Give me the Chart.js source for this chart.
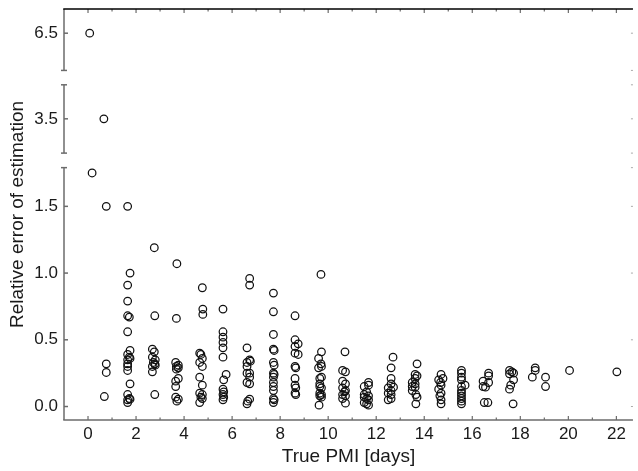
<!DOCTYPE html>
<html>
<head>
<meta charset="utf-8">
<script src="https://cdn.jsdelivr.net/npm/chart.js@4"></script>
<style>
  html, body { margin: 0; padding: 0; background: #fff; }
  #wrap { width: 638px; height: 471px; }
</style>
</head>
<body>
<div id="wrap"><canvas id="chart"></canvas></div>
<script>
// true PMI (days) and relative error
const pmiDays = [
  0.07, 0.66, 0.17, 0.76, 0.76, 0.76, 0.68,
  1.65, 1.75, 1.65, 1.65, 1.65, 1.72, 1.65, 1.75, 1.65, 1.72, 1.65, 1.75, 1.65, 1.65, 1.65, 1.75, 1.65, 1.72, 1.65, 1.75, 1.65,
  2.76, 2.78, 2.68, 2.76, 2.68, 2.8, 2.72, 2.78, 2.68, 2.8, 2.68, 2.78,
  3.7, 3.68, 3.65, 3.76, 3.68, 3.76, 3.68, 3.76, 3.65, 3.65, 3.65, 3.76, 3.7,
  4.76, 4.78, 4.78, 4.65, 4.7, 4.76, 4.65, 4.76, 4.65, 4.76, 4.65, 4.76, 4.7, 4.76, 4.65,
  5.62, 5.62, 5.62, 5.62, 5.62, 5.62, 5.75, 5.65, 5.62, 5.65, 5.62, 5.65, 5.62,
  6.73, 6.73, 6.62, 6.73, 6.62, 6.76, 6.62, 6.73, 6.62, 6.73, 6.62, 6.73, 6.73, 6.65, 6.62,
  7.72, 7.72, 7.72, 7.72, 7.75, 7.72, 7.75, 7.72, 7.75, 7.72, 7.72, 7.72, 7.72, 7.72, 7.75, 7.72,
  8.62, 8.62, 8.75, 8.62, 8.62, 8.75, 8.62, 8.65, 8.62, 8.62, 8.65, 8.62, 8.65,
  9.7, 9.72, 9.6, 9.7, 9.6, 9.72, 9.72, 9.65, 9.65, 9.65, 9.72, 9.65, 9.72, 9.65, 9.72, 9.62,
  10.7, 10.6, 10.72, 10.6, 10.72, 10.6, 10.72, 10.68, 10.6, 10.72, 10.6, 10.72,
  11.68, 11.5, 11.68, 11.6, 11.5, 11.68, 11.5, 11.6, 11.68, 11.5, 11.68, 11.6,
  12.7, 12.62, 12.62, 12.62, 12.72, 12.5, 12.62, 12.5, 12.62, 12.5, 12.62,
  13.7, 13.62, 13.7, 13.62, 13.5, 13.62, 13.5, 13.62, 13.5, 13.65, 13.7, 13.65,
  14.7, 14.78, 14.6, 14.68, 14.7, 14.6, 14.7, 14.65, 14.7, 14.7,
  15.55, 15.55, 15.55, 15.55, 15.7, 15.55, 15.55, 15.55, 15.55, 15.55, 15.55, 15.55,
  16.68, 16.68, 16.45, 16.68, 16.45, 16.55, 16.5, 16.65,
  17.55, 17.65, 17.72, 17.55, 17.72, 17.6, 17.55, 17.7,
  18.62, 18.62, 18.5, 19.05, 19.05, 20.05, 22.02
];
const relError = [
  6.5, 3.5, 1.75, 1.5, 0.32, 0.255, 0.075,
  1.5, 1.0, 0.91, 0.79, 0.68, 0.67, 0.56, 0.42, 0.39, 0.37, 0.35, 0.36, 0.32, 0.30, 0.27, 0.17, 0.09, 0.06, 0.05, 0.055, 0.03,
  1.19, 0.68, 0.43, 0.41, 0.37, 0.35, 0.33, 0.32, 0.30, 0.31, 0.26, 0.09,
  1.07, 0.66, 0.33, 0.31, 0.30, 0.29, 0.28, 0.21, 0.19, 0.15, 0.07, 0.055, 0.04,
  0.89, 0.73, 0.69, 0.40, 0.39, 0.36, 0.33, 0.30, 0.22, 0.16, 0.10, 0.09, 0.07, 0.06, 0.03,
  0.73, 0.56, 0.52, 0.48, 0.44, 0.37, 0.24, 0.20, 0.13, 0.11, 0.09, 0.07, 0.05,
  0.96, 0.91, 0.44, 0.35, 0.33, 0.34, 0.30, 0.25, 0.25, 0.22, 0.18, 0.17, 0.055, 0.04, 0.02,
  0.85, 0.71, 0.54, 0.43, 0.42, 0.33, 0.31, 0.25, 0.24, 0.22, 0.18, 0.15, 0.12, 0.06, 0.05, 0.03,
  0.68, 0.50, 0.47, 0.45, 0.40, 0.39, 0.30, 0.29, 0.21, 0.16, 0.14, 0.10, 0.09,
  0.99, 0.41, 0.36, 0.32, 0.29, 0.30, 0.22, 0.21, 0.17, 0.15, 0.14, 0.10, 0.09, 0.08, 0.07, 0.01,
  0.41, 0.27, 0.26, 0.19, 0.17, 0.14, 0.12, 0.11, 0.09, 0.08, 0.06, 0.025,
  0.18, 0.15, 0.16, 0.11, 0.09, 0.08, 0.07, 0.06, 0.05, 0.03, 0.01, 0.02,
  0.37, 0.29, 0.21, 0.17, 0.145, 0.14, 0.12, 0.10, 0.09, 0.05, 0.06,
  0.32, 0.24, 0.23, 0.21, 0.18, 0.17, 0.15, 0.145, 0.12, 0.09, 0.07, 0.02,
  0.24, 0.21, 0.20, 0.18, 0.16, 0.13, 0.10, 0.08, 0.05, 0.02,
  0.27, 0.25, 0.22, 0.20, 0.16, 0.15, 0.12, 0.10, 0.08, 0.06, 0.04, 0.02,
  0.25, 0.23, 0.19, 0.18, 0.15, 0.145, 0.03, 0.03,
  0.27, 0.26, 0.25, 0.245, 0.20, 0.16, 0.13, 0.02,
  0.29, 0.27, 0.22, 0.22, 0.15, 0.27, 0.26
];

const xTicks = [0, 2, 4, 6, 8, 10, 12, 14, 16, 18, 20, 22];
const yTicksLow = [0, 0.5, 1.0, 1.5];
const yTicksMid = [3.5];
const yTicksHigh = [6.5];

const points = pmiDays.map((x, i) => ({ x: x, y: relError[i] }));
const lowPts = points.filter(p => p.y < 2);
const midPts = points.filter(p => p.y >= 2 && p.y < 5);
const highPts = points.filter(p => p.y >= 5);

const FONT = '"Liberation Sans", Arial, sans-serif';
const AXIS_GREY = '#6b6b6b';

// which part of each y scale gets an axis line (broken axis)
const axisSegments = [
  { id: 'yLow', lo: null, hi: 1.79 },
  { id: 'yMid', lo: 3.243, hi: 3.755 },
  { id: 'yHigh', lo: 6.22, hi: null }
];

function rightMark(ctx, a, y) {
  ctx.save();
  ctx.strokeStyle = '#aaa';
  ctx.lineWidth = 1;
  ctx.beginPath();
  ctx.moveTo(a.right - 2, y);
  ctx.lineTo(a.right, y);
  ctx.stroke();
  ctx.restore();
}

const brokenAxes = {
  id: 'brokenAxes',
  afterDraw(chart) {
    const { ctx, chartArea: a, scales } = chart;
    const sx = scales.x;
    ctx.save();
    ctx.lineCap = 'butt';

    // left axis pieces
    ctx.strokeStyle = AXIS_GREY;
    ctx.lineWidth = 1.5;
    axisSegments.forEach(seg => {
      const s = scales[seg.id];
      const yb = seg.lo === null ? a.bottom : s.getPixelForValue(seg.lo);
      const yt = seg.hi === null ? a.top : s.getPixelForValue(seg.hi);
      ctx.beginPath();
      ctx.moveTo(a.left, yb);
      ctx.lineTo(a.left, yt);
      ctx.stroke();
      [seg.lo === null ? null : yb, seg.hi === null ? null : yt].forEach(y => {
        if (y === null) return;
        ctx.beginPath();
        ctx.moveTo(a.left - 3, y);
        ctx.lineTo(a.left + 3, y);
        ctx.stroke();
        rightMark(ctx, a, y);
      });
      s.ticks.forEach(t => {
        const y = s.getPixelForValue(t.value);
        ctx.beginPath();
        ctx.moveTo(a.left, y);
        ctx.lineTo(a.left + 4, y);
        ctx.stroke();
        rightMark(ctx, a, y);
      });
    });

    // bottom axis with ticks at every day
    ctx.beginPath();
    ctx.moveTo(a.left - 0.75, a.bottom);
    ctx.lineTo(a.right, a.bottom);
    ctx.stroke();
    ctx.lineWidth = 1.2;
    for (let d = 0; d <= 22; d++) {
      const x = sx.getPixelForValue(d);
      const len = d % 2 === 0 ? 4 : 2.5;
      ctx.beginPath();
      ctx.moveTo(x, a.bottom);
      ctx.lineTo(x, a.bottom - len);
      ctx.stroke();
      ctx.beginPath();
      ctx.moveTo(x, a.top);
      ctx.lineTo(x, a.top + len);
      ctx.stroke();
    }

    // top frame line
    ctx.strokeStyle = '#000';
    ctx.lineWidth = 1.5;
    ctx.beginPath();
    ctx.moveTo(a.left - 0.75, a.top);
    ctx.lineTo(a.right, a.top);
    ctx.stroke();

    // y axis title (shared by the three stacked scales)
    ctx.fillStyle = '#1a1a1a';
    ctx.font = '19px ' + FONT;
    ctx.textAlign = 'center';
    ctx.textBaseline = 'middle';
    ctx.translate(18, (a.top + a.bottom) / 2);
    ctx.rotate(-Math.PI / 2);
    ctx.fillText('Relative error of estimation', 0, 0);
    ctx.restore();
  }
};

function yScale(min, max, ticks, weight) {
  return {
    type: 'linear',
    position: 'left',
    stack: 'err',
    stackWeight: weight,
    min: min,
    max: max,
    grid: { display: false, drawTicks: false },
    border: { display: false },
    afterBuildTicks: s => { s.ticks = ticks.map(v => ({ value: v })); },
    afterFit: s => { s.width = 64; s.paddingTop = 0; s.paddingBottom = 0; },
    ticks: {
      padding: 6,
      color: '#1a1a1a',
      font: { family: FONT, size: 17 },
      callback: v => Number(v).toFixed(1)
    }
  };
}

const circle = {
  pointStyle: 'circle',
  pointRadius: 3.8,
  pointHoverRadius: 3.8,
  borderWidth: 1.25,
  borderColor: '#111',
  backgroundColor: 'rgba(0,0,0,0)',
  showLine: false
};

new Chart(document.getElementById('chart').getContext('2d'), {
  type: 'scatter',
  data: {
    datasets: [
      Object.assign({ label: 'low', data: lowPts, yAxisID: 'yLow' }, circle),
      Object.assign({ label: 'mid', data: midPts, yAxisID: 'yMid' }, circle),
      Object.assign({ label: 'high', data: highPts, yAxisID: 'yHigh' }, circle)
    ]
  },
  options: {
    responsive: true,
    maintainAspectRatio: false,
    animation: false,
    layout: { padding: { top: 9, right: 1, bottom: 0, left: 0 } },
    plugins: {
      legend: { display: false },
      tooltip: { enabled: false }
    },
    scales: {
      x: {
        type: 'linear',
        min: -1,
        max: 22.69,
        grid: { display: false, drawTicks: false },
        border: { display: false },
        afterBuildTicks: s => { s.ticks = xTicks.map(v => ({ value: v })); },
        afterFit: s => { s.height = 51; s.paddingLeft = 0; s.paddingRight = 0; },
        ticks: {
          padding: 4,
          color: '#1a1a1a',
          font: { family: FONT, size: 17 },
          maxRotation: 0
        },
        title: {
          display: true,
          text: 'True PMI [days]',
          color: '#1a1a1a',
          font: { family: FONT, size: 19 },
          padding: { top: 0, bottom: 3 }
        }
      },
      yLow: yScale(-0.101, 1.845, yTicksLow, 259.5),
      yMid: yScale(3.189, 3.809, yTicksMid, 82.65),
      yHigh: yScale(6.166, 6.682, yTicksHigh, 68.55)
    }
  },
  plugins: [brokenAxes]
});
</script>
</body>
</html>
